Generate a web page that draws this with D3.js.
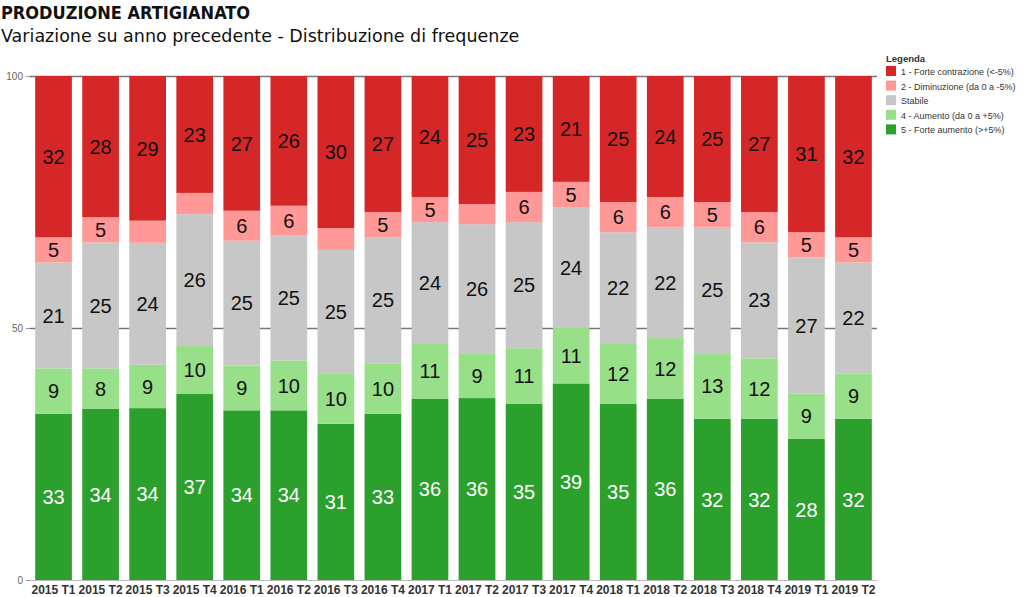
<!DOCTYPE html>
<html><head><meta charset="utf-8">
<script src="https://cdn.jsdelivr.net/npm/d3@7"></script>
<style>body{margin:0;background:#fff;}svg{display:block;}</style>
</head><body>
<svg id="chart" width="1024" height="597"></svg>
<script>
const categories = ["2015 T1","2015 T2","2015 T3","2015 T4","2016 T1","2016 T2","2016 T3","2016 T4","2017 T1","2017 T2","2017 T3","2017 T4","2018 T1","2018 T2","2018 T3","2018 T4","2019 T1","2019 T2"];
const forteAumento   = [33,34,34.1,36.9,34,34,31.0,33,36,36.1,35,39,35,36,32,32,28,32];
const aumento        = [9,8,8.6,9.7,9,10,9.9,10,11,8.9,11,11,12,12,13,12,9,9];
const stabile        = [21,25,24.2,26.0,25,25,24.6,25,24,25.6,25,24,22,22,25,23,27,22];
const diminuzione    = [5,5,4.4,4.2,6,6,4.3,5,5,4.0,6,5,6,6,5,6,5,5];
const forteContrazione = [32,28,28.7,23.2,27,26,30.2,27,24,25.4,23,21,25,24,25,27,31,32];
const seriesNames = ["5 - Forte aumento (>+5%)","4 - Aumento (da 0 a +5%)","Stabile","2 - Diminuzione (da 0 a -5%)","1 - Forte contrazione (<-5%)"];
const seriesColors = ["#2ca02c","#98df8a","#c7c7c7","#ff9896","#d62728"];
const labelColors = ["#ffffff","#111111","#111111","#111111","#111111"];
const yTicks = [0,50,100];
const legendTitle = "Legenda";
const title = "PRODUZIONE ARTIGIANATO";
const subtitle = "Variazione su anno precedente - Distribuzione di frequenze";

const seriesValues = [forteAumento, aumento, stabile, diminuzione, forteContrazione];
const keys = seriesNames.map((d,i)=>"s"+i);
const table = categories.map((c,j)=>{const o={cat:c}; keys.forEach((k,i)=>o[k]=seriesValues[i][j]); return o;});

const svg = d3.select("#chart");
const mLeft=30, mRight=877, mTop=76, mBottom=580;

const x = d3.scaleBand().domain(categories).range([mLeft,mRight]).paddingInner(0.22).paddingOuter(0.11);
const y = d3.scaleLinear().domain([0,100]).range([mBottom,mTop]);

const stack = d3.stack().keys(keys).offset(d3.stackOffsetExpand);
const stacked = stack(table);

// title
svg.append("text").attr("x",1).attr("y",19).attr("font-family","DejaVu Sans Condensed, DejaVu Sans, sans-serif")
  .attr("font-weight","bold").attr("font-size",18).attr("fill","#111").text(title);
svg.append("text").attr("x",1).attr("y",42).attr("font-family","DejaVu Sans, Verdana, sans-serif")
  .attr("font-size",17.5).attr("fill","#111").text(subtitle);

// gridlines (behind bars)
const grid = svg.append("g");
yTicks.forEach(t=>{
  grid.append("line").attr("x1",mLeft).attr("x2",mRight).attr("y1",y(t)+0.5).attr("y2",y(t)+0.5)
    .attr("stroke", t===0 ? "#bbbbbb" : "#777777").attr("stroke-width", t===0 ? 1 : 1.5);
});

// bars
const g = svg.append("g");
stacked.forEach((layer,i)=>{
  g.selectAll(null).data(layer).enter().append("rect")
    .attr("x",d=>x(d.data.cat)).attr("width",x.bandwidth())
    .attr("y",d=>y(d[1]*100)).attr("height",d=>y(d[0]*100)-y(d[1]*100))
    .attr("fill",seriesColors[i]);
});

// y axis
const yAxis = d3.axisLeft(y).tickValues(yTicks).tickSize(4).tickPadding(3);
const ya = svg.append("g").attr("transform",`translate(${mLeft},0)`).call(yAxis);
ya.select(".domain").remove();
ya.selectAll(".tick line").attr("stroke","#999");
ya.selectAll(".tick text").attr("font-family","Liberation Sans, Arial, sans-serif").attr("font-size",10).attr("fill","#666");

// x axis
const xAxis = d3.axisBottom(x).tickSize(0).tickPadding(5);
const xa = svg.append("g").attr("transform",`translate(0,${mBottom})`).call(xAxis);
xa.select(".domain").remove();
xa.selectAll(".tick text").attr("font-family","Liberation Sans, Arial, sans-serif").attr("font-size",12)
  .attr("font-weight","bold").attr("fill","#333");

// segment labels
stacked.forEach((layer,i)=>{
  g.selectAll(null).data(layer.filter((d,j)=>Math.round(seriesValues[i][j])>=5)).enter().append("text")
    .attr("x",d=>x(d.data.cat)+x.bandwidth()/2)
    .attr("y",d=>y((d[0]+d[1])/2*100))
    .attr("dy","0.36em")
    .attr("text-anchor","middle")
    .attr("font-family","Liberation Sans, Arial, sans-serif")
    .attr("font-size",20)
    .attr("fill",labelColors[i])
    .text(d=>Math.round(d.data[layer.key]));
});

// legend
const lg = svg.append("g").attr("transform","translate(886,0)");
lg.append("text").attr("x",0).attr("y",62).attr("font-family","Liberation Sans, Arial, sans-serif")
  .attr("font-size",9.5).attr("font-weight","bold").attr("fill","#333").text(legendTitle);
const order = [4,3,2,1,0];
order.forEach((si,r)=>{
  const yy = 66 + r*14.6;
  lg.append("rect").attr("x",0).attr("y",yy).attr("width",10).attr("height",10).attr("fill",seriesColors[si]);
  lg.append("text").attr("x",15).attr("y",yy+9).attr("font-family","Liberation Sans, Arial, sans-serif")
    .attr("font-size",9).attr("fill","#333").text(seriesNames[si]);
});
</script>
</body></html>
